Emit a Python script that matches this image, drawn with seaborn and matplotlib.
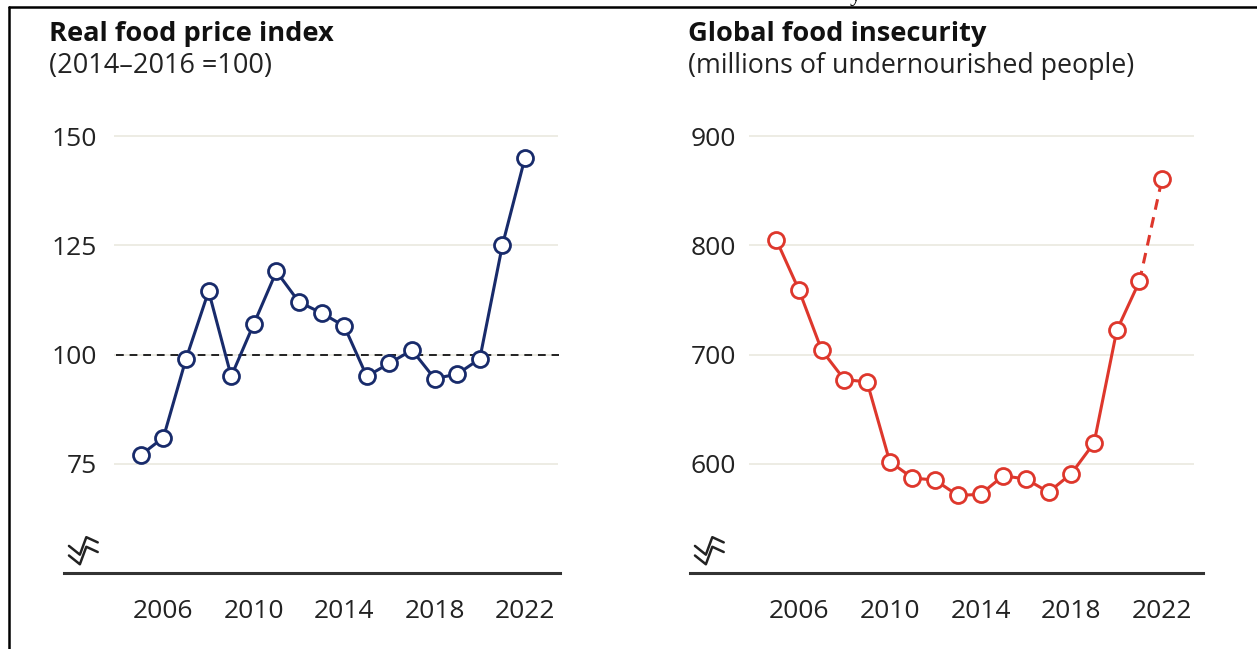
import numpy as np
import pandas as pd
import matplotlib
matplotlib.use('Agg')
import matplotlib.pyplot as plt
from matplotlib.lines import Line2D
import seaborn as sns

# data
years = list(range(2005, 2023))
price_index = [77, 81, 99, 114.5, 95, 107, 119, 112, 109.5, 106.5,
               95, 98, 101, 94.5, 95.5, 99, 125, 145]
undernourished = [805, 759, 704, 677, 675, 602, 587, 585, 571, 572,
                  589, 586, 574, 591, 619, 722, 767, 861]
projected_years = [2021, 2022]          # last segment is a projection
year_ticks = [2006, 2010, 2014, 2018, 2022]
price_ticks = [75, 100, 125, 150]
hunger_ticks = [600, 700, 800, 900]
price_base = 100

sns.set_theme(style="white")
plt.rcParams['font.family'] = ['Open Sans', 'DejaVu Sans']

NAVY = "#182b6b"
RED = "#de372c"
GRID = "#ecebe2"
W, H = 1257, 649

price_df = pd.DataFrame({"year": years, "value": price_index})
hunger_df = pd.DataFrame({"year": years, "value": undernourished})
hunger_solid = hunger_df[hunger_df.year <= projected_years[0]]
hunger_proj = hunger_df[hunger_df.year.isin(projected_years)]

fig = plt.figure(figsize=(W / 100, H / 100), dpi=100)
ax1 = fig.add_axes([64 / W, 1 - 573 / H, 496 / W, 437 / H])
ax2 = fig.add_axes([690 / W, 1 - 573 / H, 513 / W, 437 / H])

mk = dict(marker="o", markersize=11.5, markerfacecolor="white",
          markeredgewidth=2.0, linewidth=2.2)


def style_axis(ax, xlim, ylim, yticks, grid_x, ypad):
    ax.set_xlim(*xlim)
    ax.set_ylim(*ylim)
    ax.hlines(yticks, grid_x[0], grid_x[1], color=GRID, lw=1.3,
              zorder=0, clip_on=False)
    ax.set_yticks(yticks)
    ax.set_xticks(year_ticks)
    ax.tick_params(axis="y", length=0, pad=ypad, labelsize=19,
                   labelcolor="#222222")
    ax.tick_params(axis="x", length=0, pad=19, labelsize=19,
                   labelcolor="#222222")
    for s in ["top", "right", "left"]:
        ax.spines[s].set_visible(False)
    ax.spines["bottom"].set_color("#333333")
    ax.spines["bottom"].set_linewidth(2.2)
    ax.grid(False)
    # axis break mark (two parallel zigzags)
    sx = 496 / ax.bbox.width
    for dy in (0.0, 0.022):
        xs = np.array([0.010, 0.032, 0.045, 0.068]) * sx
        ys = np.array([0.062, 0.042, 0.082, 0.070]) - dy
        ax.add_line(Line2D(xs, ys, transform=ax.transAxes, color="#222222",
                           lw=1.8, clip_on=False))


# left panel: food price index
style_axis(ax1, (2001.6, 2023.55), (50, 150), price_ticks,
           (2003.8, 2023.45), -23.5)
ax1.hlines(price_base, 2003.9, 2023.5, color="#222222", lw=1.4,
           linestyles=(0, (4, 3)), zorder=1)
sns.lineplot(data=price_df, x="year", y="value", ax=ax1, color=NAVY,
             markeredgecolor=NAVY, zorder=3, clip_on=False, **mk)

# right panel: undernourished people
style_axis(ax2, (2001.2, 2023.8), (500, 900), hunger_ticks,
           (2003.8, 2023.4), -33)
sns.lineplot(data=hunger_proj, x="year", y="value", ax=ax2, color=RED,
             markeredgecolor=RED, dashes=False, linestyle=(0, (3.5, 2.5)),
             markevery=[1], zorder=2, clip_on=False, **mk)
sns.lineplot(data=hunger_solid, x="year", y="value", ax=ax2, color=RED,
             markeredgecolor=RED, zorder=3, clip_on=False, **mk)
for ax in (ax1, ax2):
    ax.set_xlabel("")
    ax.set_ylabel("")

# titles
fig.text(49 / W, 1 - 41 / H, "Real food price index", fontsize=19.6,
         fontweight="bold", color="#111111", va="baseline")
fig.text(49 / W, 1 - 73 / H, "(2014\u20132016 =100)", fontsize=19.5,
         color="#222222", va="baseline")
fig.text(688 / W, 1 - 41 / H, "Global food insecurity", fontsize=19.6,
         fontweight="bold", color="#111111", va="baseline")
fig.text(688 / W, 1 - 73 / H, "(millions of undernourished people)",
         fontsize=19.3, color="#222222", va="baseline")

# page frame and clipped heading remnant
fig.add_artist(Line2D([9 / W, 9 / W], [0, 1 - 7 / H], color="black", lw=1.8))
fig.add_artist(Line2D([9 / W, 1], [1 - 7 / H, 1 - 7 / H], color="black", lw=1.8))
fig.text(850 / W, 1 - 1 / H, "y", fontsize=17, family="Liberation Serif",
         va="baseline", color="black")

fig.savefig("out.png", dpi=100)
